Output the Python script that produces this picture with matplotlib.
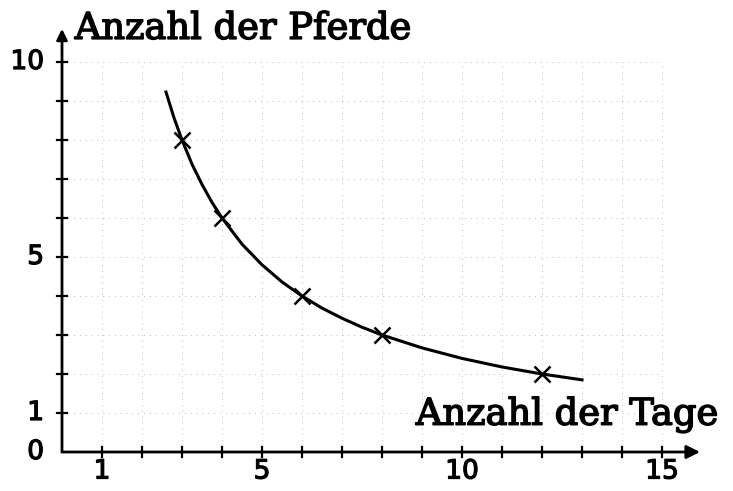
import matplotlib
matplotlib.use("Agg")
import matplotlib.pyplot as plt
import matplotlib.patheffects as pe

# Data
point_days = [3, 4, 6, 8, 12]
point_horses = [8, 6, 4, 3, 2]

curve_days = [2.6, 2.8, 3.0, 3.25, 3.5, 3.75, 4.0, 4.5, 5.0, 5.5, 6.0, 6.5, 7.0,
              7.5, 8.0, 9.0, 10.0, 11.0, 12.0, 13.0]
curve_horses = [9.23, 8.57, 8.0, 7.38, 6.86, 6.4, 6.0, 5.33, 4.8, 4.36, 4.0, 3.69, 3.43,
                3.2, 3.0, 2.67, 2.4, 2.18, 2.0, 1.85]

x_tick_labels = [1, 5, 10, 15]
y_tick_labels = [0, 1, 5, 10]
x_minor = list(range(1, 16))
y_minor = list(range(1, 11))

x_label = "Anzahl der Tage"
y_label = "Anzahl der Pferde"

W, H = 733, 491
fig = plt.figure(figsize=(W / 100, H / 100), dpi=100)
ax = fig.add_axes([0, 0, 1, 1])

# pixel mapping: x=0 at px 62, 40 px/unit; y=0 at px 452, 39 px/unit
x0, sx = 62, 40.0
y0, sy = 452, 39.0
ax.set_xlim(-x0 / sx, (W - x0) / sx)
ax.set_ylim(-(H - y0) / sy, y0 / sy)
ax.axis("off")

# faint dotted grid
for gx in x_minor:
    ax.plot([gx, gx], [0, 10], color="#a8a8a8", lw=0.6, ls=(0, (1, 6)), zorder=0)
for gy in y_minor:
    ax.plot([0, 15], [gy, gy], color="#a8a8a8", lw=0.6, ls=(0, (1, 6)), zorder=0)

# axes with arrows
ax.annotate("", xy=(15.95, 0), xytext=(0, 0),
            arrowprops=dict(arrowstyle="-|>", color="black", lw=2.0,
                            mutation_scale=20, shrinkA=0, shrinkB=0))
ax.annotate("", xy=(0, 10.85), xytext=(0, 0),
            arrowprops=dict(arrowstyle="-|>", color="black", lw=2.0,
                            mutation_scale=16, shrinkA=0, shrinkB=0))

# tick marks
tx = 5 / sx
ty = 5 / sy
for gx in x_minor:
    ax.plot([gx, gx], [-ty, ty], color="black", lw=1.6)
for gy in y_minor:
    ax.plot([-tx, tx], [gy, gy], color="black", lw=1.6)

thick_small = [pe.withStroke(linewidth=0.9, foreground="black")]
thick_big = [pe.withStroke(linewidth=1.1, foreground="black")]

# tick labels
for v in x_tick_labels:
    ax.text(v, -0.5, str(v), ha="center", va="center", fontsize=19,
            family="DejaVu Sans", path_effects=thick_small)
for v in y_tick_labels:
    ax.text(-0.45, v, str(v), ha="right", va="center", fontsize=19,
            family="DejaVu Sans", path_effects=thick_small)

# curve and points
ax.plot(curve_days, curve_horses, color="black", lw=2.2, zorder=3)
ax.plot(point_days, point_horses, ls="none", marker="x", color="black",
        ms=11, mew=1.8, zorder=4)

# axis titles
ax.text(0.32, 10.85, y_label, ha="left", va="center", fontsize=26.5,
        family="DejaVu Serif", path_effects=thick_big)
ax.text(16.4, 0.95, x_label, ha="right", va="center", fontsize=26.5,
        family="DejaVu Serif", path_effects=thick_big)

fig.savefig("out.png", dpi=100)
